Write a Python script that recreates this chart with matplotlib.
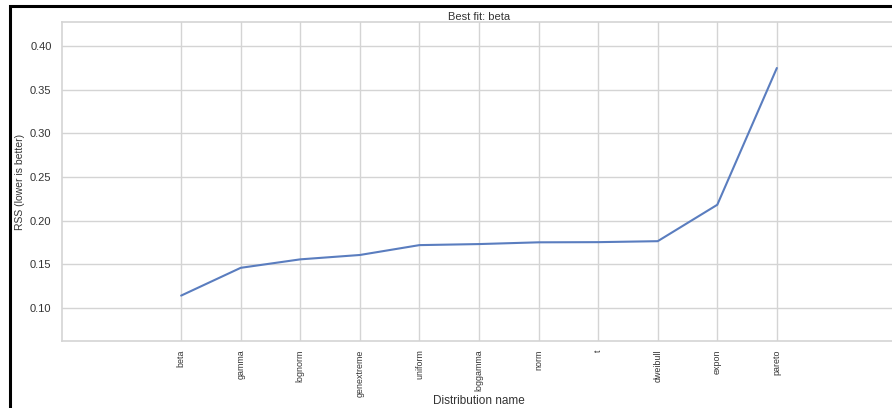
import matplotlib
matplotlib.use('Agg')
import matplotlib.pyplot as plt
from matplotlib.patches import Rectangle
import seaborn as sns

## RSS per fitted distribution, sorted best first
distributions = ["beta", "gamma", "lognorm", "genextreme", "uniform", "loggamma",
                 "norm", "t", "dweibull", "expon", "pareto"]
rss = [0.1142, 0.1460, 0.1557, 0.1607, 0.1720, 0.1732,
       0.1752, 0.1754, 0.1765, 0.2182, 0.3748]

sns.set_style("whitegrid")
plt.rcParams['font.family'] = ['Liberation Sans', 'DejaVu Sans']

W, H = 892, 408
fig = plt.figure(figsize=(W / 100, H / 100), dpi=100)

# axes runs a little past the right edge of the canvas
left, right, top, bottom = 62, 896, 22, 341
ax = fig.add_axes([left / W, 1 - bottom / H, (right - left) / W, (bottom - top) / H])

x = list(range(len(distributions)))
ax.plot(x, rss, color="#5a7dbf", linewidth=1.5)

ax.set_xlim(-2.0, 12.0)
ax.set_ylim(0.0622, 0.4275)
ax.set_xticks(x)
ax.set_xticklabels(distributions, rotation=90, fontsize=6.4)
ax.set_yticks([0.10, 0.15, 0.20, 0.25, 0.30, 0.35, 0.40])
ax.set_yticklabels([f"{v:.2f}" for v in ax.get_yticks()])
ax.tick_params(axis='y', labelsize=8, colors="#333333", pad=4)
ax.tick_params(axis='x', colors="#333333", pad=2.5)

ax.grid(True, color="#d4d4d4", linewidth=1.0)
for s in ax.spines.values():
    s.set_color("#d4d4d4")
    s.set_linewidth(1.2)

ax.set_title("Best fit: beta", fontsize=8, color="#333333", pad=1.5)
ax.set_xlabel("Distribution name", fontsize=8.5, color="#333333")
ax.xaxis.set_label_coords(0.5, -0.168)
ax.set_ylabel("RSS (lower is better)", fontsize=7.5, color="#333333")
ax.yaxis.set_label_coords(-0.044, 0.5)

# black frame around the figure (right and bottom edges fall outside)
fig.add_artist(Rectangle((10 / W, -0.1), 1.2, 1 - 6 / H + 0.1, transform=fig.transFigure,
                         fill=False, edgecolor="black", linewidth=2.2))

fig.savefig("out.png", dpi=100)
